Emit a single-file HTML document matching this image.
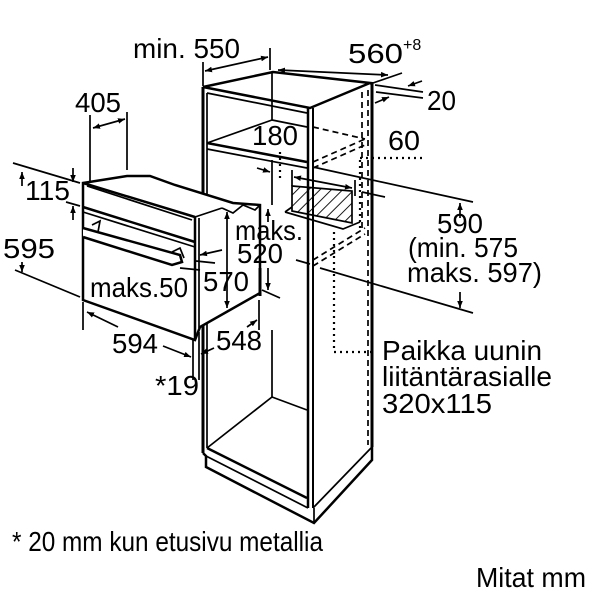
<!DOCTYPE html>
<html><head><meta charset="utf-8"><style>
html,body{margin:0;padding:0;background:#fff}
svg{display:block}
text{font-family:"Liberation Sans",Arial,sans-serif;font-size:28px;fill:#000}
</style></head><body>
<svg width="600" height="600" viewBox="0 0 600 600" xmlns="http://www.w3.org/2000/svg">
<defs>
<marker id="a" viewBox="0 0 10 10" refX="10" refY="5" markerWidth="7" markerHeight="7" orient="auto-start-reverse" markerUnits="userSpaceOnUse"><path d="M0,1 L10,5 L0,9 z" fill="#000"/></marker>
<pattern id="h" width="8" height="8" patternUnits="userSpaceOnUse" patternTransform="rotate(45)"><line x1="0" y1="0" x2="0" y2="8" stroke="#000" stroke-width="1.8"/></pattern>
</defs>
<g stroke="#000" fill="none" stroke-width="1.7">
<path d="M203,87 L273,72 L370,83 L310,108 Z" stroke-width="2.5"/>
<line x1="207" y1="93" x2="307" y2="113"/>
<line x1="203" y1="87" x2="203" y2="453" stroke-width="3"/>
<line x1="207" y1="93" x2="207" y2="448"/>
<line x1="308" y1="108" x2="308" y2="508" stroke-width="2.5"/>
<line x1="313" y1="108" x2="313" y2="508" stroke-width="2"/>
<line x1="372" y1="83" x2="372" y2="447" stroke-width="3"/>
<line x1="368" y1="90" x2="368" y2="445" stroke-dasharray="6,4"/>
<line x1="362" y1="92" x2="362" y2="232" stroke-dasharray="6,4"/>
<line x1="272" y1="73" x2="272" y2="120"/>
<line x1="272" y1="160" x2="272" y2="205"/>
<line x1="272" y1="330" x2="272" y2="397"/>
<line x1="207" y1="143" x2="307" y2="162" stroke-width="2.5"/>
<line x1="207" y1="149" x2="307" y2="168"/>
<line x1="207" y1="143" x2="272" y2="120"/>
<line x1="272" y1="120" x2="307" y2="127"/>
<line x1="313" y1="127" x2="365" y2="139" stroke-dasharray="6,4"/>
<line x1="313" y1="162" x2="365" y2="139" stroke-dasharray="6,4"/>
<line x1="313" y1="168" x2="365" y2="145" stroke-dasharray="6,4"/>
<line x1="313" y1="260" x2="365" y2="228" stroke-dasharray="6,4"/>
<line x1="313" y1="266" x2="365" y2="234" stroke-dasharray="6,4"/>
<line x1="207" y1="448" x2="307" y2="498" stroke-width="2.5"/>
<line x1="207" y1="448" x2="272" y2="397"/>
<line x1="272" y1="397" x2="307" y2="410"/>
<path d="M203,453 L206,456 L206,467 L314,523 L372,460 L372,447" stroke-width="2.5"/>
<line x1="206" y1="456" x2="308" y2="508"/>
<line x1="313" y1="508" x2="372" y2="447"/>
<line x1="314" y1="508" x2="314" y2="523"/>
<path d="M292,186 L352,191 L352,223 L292,211 Z" fill="url(#h)"/>
<path d="M285,212 L292,207 M285,212 L343,229 L360,222"/>
<path d="M334,232 V352 H374" stroke-dasharray="2,4" stroke-width="2.2"/>
<path d="M360,158 H426" stroke-dasharray="2,4" stroke-width="2.2"/>
<path d="M360,160 V230" stroke-dasharray="2,4" stroke-width="2.2"/>
<path d="M280,152 V178" stroke-dasharray="2,4" stroke-width="2.2"/>
<path d="M83,183 L127,176 L150,176 L175,185 L233,203 L260,205 L260,293 L200,327 L195,340 L83,300 Z" fill="#fff" stroke-width="2.5"/>
<line x1="83" y1="183" x2="195" y2="217" stroke-width="2.5"/>
<line x1="195" y1="217" x2="195" y2="340" stroke-width="2.5"/>
<line x1="199" y1="218" x2="199" y2="328"/>
<line x1="195" y1="217" x2="222" y2="208"/>
<path d="M222,208 L233,213 L243,205 L255,210 L260,205"/>
<line x1="87" y1="186" x2="192" y2="220"/>
<line x1="83" y1="207" x2="195" y2="242" stroke-width="2.5"/>
<line x1="83" y1="212" x2="195" y2="247"/>
<path d="M83,228 L180,255 L182,262 L172,265 L83,237" stroke-width="2.5" fill="#fff"/>
<path d="M92,225 L100,221 L98,232 M172,252 L180,248 L184,258"/>
<line x1="203" y1="86" x2="203" y2="62"/>
<line x1="270" y1="70" x2="270" y2="48"/>
<line x1="205" y1="71" x2="268" y2="57" marker-start="url(#a)" marker-end="url(#a)"/>
<line x1="278" y1="70" x2="388" y2="75" marker-start="url(#a)" marker-end="url(#a)"/>
<line x1="370" y1="84" x2="402" y2="73"/>
<line x1="375" y1="85" x2="423" y2="92"/>
<line x1="376" y1="92" x2="423" y2="98"/>
<line x1="422" y1="81" x2="408" y2="86" marker-end="url(#a)"/>
<line x1="375" y1="103" x2="389" y2="97" marker-end="url(#a)"/>
<line x1="90" y1="183" x2="90" y2="115"/>
<line x1="127" y1="170" x2="127" y2="112"/>
<line x1="93" y1="128" x2="125" y2="119" marker-start="url(#a)" marker-end="url(#a)"/>
<line x1="13" y1="163" x2="80" y2="183"/>
<line x1="66" y1="202" x2="80" y2="206"/>
<line x1="73" y1="168" x2="73" y2="182" marker-end="url(#a)"/>
<line x1="73" y1="220" x2="73" y2="206" marker-end="url(#a)"/>
<line x1="22" y1="172" x2="22" y2="186" marker-start="url(#a)"/>
<line x1="22" y1="262" x2="22" y2="272" marker-end="url(#a)"/>
<line x1="15" y1="270" x2="80" y2="297"/>
<line x1="83" y1="302" x2="83" y2="330"/>
<line x1="87" y1="312" x2="118" y2="327" marker-start="url(#a)"/>
<line x1="163" y1="346" x2="191" y2="357" marker-end="url(#a)"/>
<line x1="193" y1="340" x2="193" y2="380"/>
<line x1="199" y1="332" x2="199" y2="380"/>
<line x1="214" y1="348" x2="201" y2="354" marker-end="url(#a)"/>
<line x1="259" y1="300" x2="259" y2="330"/>
<line x1="247" y1="327" x2="257" y2="320" marker-end="url(#a)"/>
<line x1="227" y1="212" x2="227" y2="308" marker-start="url(#a)" marker-end="url(#a)"/>
<line x1="200" y1="255" x2="222" y2="250" marker-start="url(#a)"/>
<line x1="196" y1="261" x2="215" y2="263"/>
<line x1="180" y1="268" x2="200" y2="270"/>
<line x1="268" y1="222" x2="268" y2="209" marker-end="url(#a)"/>
<line x1="268" y1="268" x2="268" y2="290" marker-end="url(#a)"/>
<line x1="262" y1="290" x2="280" y2="298"/>
<line x1="260" y1="268" x2="260" y2="296" stroke-width="3"/>
<line x1="257" y1="168" x2="270" y2="172" marker-end="url(#a)"/>
<line x1="292" y1="170" x2="292" y2="186"/>
<line x1="294" y1="177" x2="352" y2="188" marker-start="url(#a)" marker-end="url(#a)"/>
<line x1="355" y1="180" x2="355" y2="196"/>
<line x1="362" y1="192" x2="385" y2="197"/>
<line x1="313" y1="167" x2="473" y2="202"/>
<line x1="320" y1="268" x2="473" y2="313"/>
<line x1="460" y1="218" x2="460" y2="203" marker-end="url(#a)"/>
<line x1="460" y1="292" x2="460" y2="308" marker-end="url(#a)"/>
<line x1="296" y1="260" x2="310" y2="264"/>
</g>
<g>
<text x="133" y="58" textLength="107" lengthAdjust="spacingAndGlyphs">min. 550</text>
<text x="348" y="63" textLength="55" lengthAdjust="spacingAndGlyphs">560</text>
<text x="403" y="50" style="font-size:16px">+8</text>
<text x="427" y="110" textLength="29" lengthAdjust="spacingAndGlyphs">20</text>
<text x="75" y="112" textLength="46" lengthAdjust="spacingAndGlyphs">405</text>
<text x="252" y="145" textLength="46" lengthAdjust="spacingAndGlyphs">180</text>
<text x="388" y="150" textLength="32" lengthAdjust="spacingAndGlyphs">60</text>
<text x="25" y="200" textLength="45" lengthAdjust="spacingAndGlyphs">115</text>
<text x="3" y="258" textLength="52" lengthAdjust="spacingAndGlyphs">595</text>
<text x="235" y="240" textLength="68" lengthAdjust="spacingAndGlyphs">maks.</text>
<text x="237" y="263" textLength="46" lengthAdjust="spacingAndGlyphs">520</text>
<text x="437" y="233" textLength="46" lengthAdjust="spacingAndGlyphs">590</text>
<text x="408" y="257" textLength="110" lengthAdjust="spacingAndGlyphs">(min. 575</text>
<text x="407" y="282" textLength="135" lengthAdjust="spacingAndGlyphs">maks. 597)</text>
<text x="90" y="297" textLength="98" lengthAdjust="spacingAndGlyphs">maks.50</text>
<text x="203" y="291" textLength="46" lengthAdjust="spacingAndGlyphs">570</text>
<text x="112" y="353" textLength="46" lengthAdjust="spacingAndGlyphs">594</text>
<text x="216" y="350" textLength="46" lengthAdjust="spacingAndGlyphs">548</text>
<text x="155" y="395" textLength="44" lengthAdjust="spacingAndGlyphs">*19</text>
<text x="382" y="360" textLength="160" lengthAdjust="spacingAndGlyphs">Paikka uunin</text>
<text x="382" y="386" textLength="170" lengthAdjust="spacingAndGlyphs">liitäntärasialle</text>
<text x="382" y="413" textLength="110" lengthAdjust="spacingAndGlyphs">320x115</text>
<text x="12" y="551" textLength="311" lengthAdjust="spacingAndGlyphs">* 20 mm kun etusivu metallia</text>
<text x="476" y="587" textLength="110" lengthAdjust="spacingAndGlyphs">Mitat mm</text>
</g>
</svg>
</body></html>
